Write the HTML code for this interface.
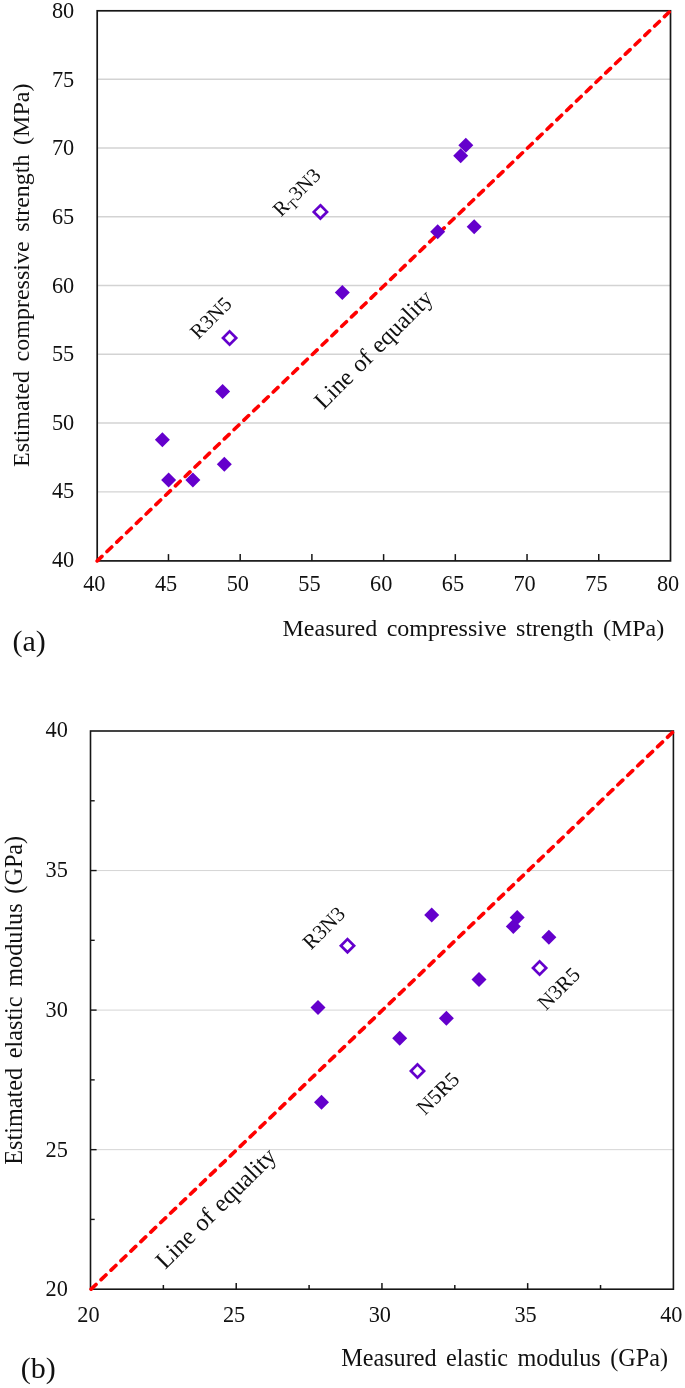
<!DOCTYPE html>
<html lang="en"><head><meta charset="utf-8"><title>Estimated vs measured</title>
<style>
html,body{margin:0;padding:0;background:#fff}
svg{display:block;will-change:transform;font-family:"Liberation Serif",serif}
</style></head><body>
<svg width="685" height="1388" viewBox="0 0 685 1388">
<rect width="685" height="1388" fill="#fff"/>
<g id="chartA">
<line x1="97.2" x2="670.5" y1="491.84" y2="491.84" stroke="#d3d3d3" stroke-width="1.4"/>
<line x1="97.2" x2="670.5" y1="423.07" y2="423.07" stroke="#d3d3d3" stroke-width="1.4"/>
<line x1="97.2" x2="670.5" y1="354.31" y2="354.31" stroke="#d3d3d3" stroke-width="1.4"/>
<line x1="97.2" x2="670.5" y1="285.55" y2="285.55" stroke="#d3d3d3" stroke-width="1.4"/>
<line x1="97.2" x2="670.5" y1="216.79" y2="216.79" stroke="#d3d3d3" stroke-width="1.4"/>
<line x1="97.2" x2="670.5" y1="148.02" y2="148.02" stroke="#d3d3d3" stroke-width="1.4"/>
<line x1="97.2" x2="670.5" y1="79.26" y2="79.26" stroke="#d3d3d3" stroke-width="1.4"/>
<rect x="97.2" y="10.8" width="573.3" height="550.1" fill="none" stroke="#161616" stroke-width="1.7"/>
<line x1="168.47" x2="168.47" y1="560.9" y2="554.1" stroke="#161616" stroke-width="1.5"/>
<line x1="240.18" x2="240.18" y1="560.9" y2="554.1" stroke="#161616" stroke-width="1.5"/>
<line x1="311.89" x2="311.89" y1="560.9" y2="554.1" stroke="#161616" stroke-width="1.5"/>
<line x1="383.61" x2="383.61" y1="560.9" y2="554.1" stroke="#161616" stroke-width="1.5"/>
<line x1="455.32" x2="455.32" y1="560.9" y2="554.1" stroke="#161616" stroke-width="1.5"/>
<line x1="527.04" x2="527.04" y1="560.9" y2="554.1" stroke="#161616" stroke-width="1.5"/>
<line x1="598.75" x2="598.75" y1="560.9" y2="554.1" stroke="#161616" stroke-width="1.5"/>
<line x1="97.2" y1="560.9" x2="670.5" y2="10.8" stroke="#ff0000" stroke-width="3.6" stroke-linecap="round" stroke-dasharray="6.6 6.954"/>
<g font-size="22.3" fill="#111">
<text x="74.2" y="567.0" text-anchor="end">40</text>
<text x="94.3" y="591.4" text-anchor="middle">40</text>
<text x="74.2" y="498.4" text-anchor="end">45</text>
<text x="166.1" y="591.4" text-anchor="middle">45</text>
<text x="74.2" y="429.8" text-anchor="end">50</text>
<text x="237.8" y="591.4" text-anchor="middle">50</text>
<text x="74.2" y="361.1" text-anchor="end">55</text>
<text x="309.5" y="591.4" text-anchor="middle">55</text>
<text x="74.2" y="292.5" text-anchor="end">60</text>
<text x="381.2" y="591.4" text-anchor="middle">60</text>
<text x="74.2" y="223.9" text-anchor="end">65</text>
<text x="452.9" y="591.4" text-anchor="middle">65</text>
<text x="74.2" y="155.2" text-anchor="end">70</text>
<text x="524.6" y="591.4" text-anchor="middle">70</text>
<text x="74.2" y="86.6" text-anchor="end">75</text>
<text x="596.4" y="591.4" text-anchor="middle">75</text>
<text x="74.2" y="18.0" text-anchor="end">80</text>
<text x="668.1" y="591.4" text-anchor="middle">80</text>
</g>
<polygon points="162.4,432.3 169.9,439.8 162.4,447.3 154.9,439.8" fill="#6400cc"/>
<polygon points="168.6,472.4 176.1,479.9 168.6,487.4 161.1,479.9" fill="#6400cc"/>
<polygon points="192.9,472.4 200.4,479.9 192.9,487.4 185.4,479.9" fill="#6400cc"/>
<polygon points="224.3,456.8 231.8,464.3 224.3,471.8 216.8,464.3" fill="#6400cc"/>
<polygon points="222.6,383.9 230.1,391.4 222.6,398.9 215.1,391.4" fill="#6400cc"/>
<polygon points="342.3,285.1 349.8,292.6 342.3,300.1 334.8,292.6" fill="#6400cc"/>
<polygon points="437.7,224.3 445.2,231.8 437.7,239.3 430.2,231.8" fill="#6400cc"/>
<polygon points="474.2,219.2 481.7,226.7 474.2,234.2 466.7,226.7" fill="#6400cc"/>
<polygon points="460.7,148.3 468.2,155.8 460.7,163.3 453.2,155.8" fill="#6400cc"/>
<polygon points="465.8,137.8 473.3,145.3 465.8,152.8 458.3,145.3" fill="#6400cc"/>
<polygon points="229.6,331.4 236.2,338.0 229.6,344.6 223.0,338.0" fill="#fff" stroke="#6400cc" stroke-width="2.7" stroke-linejoin="miter"/>
<polygon points="320.4,205.3 327.0,211.9 320.4,218.5 313.8,211.9" fill="#fff" stroke="#6400cc" stroke-width="2.7" stroke-linejoin="miter"/>
<text font-size="24" x="282.5" y="635.9" fill="#111" word-spacing="3.5">Measured compressive strength (MPa)</text>
<text font-size="24" transform="translate(28.5,467.0) rotate(-90)" fill="#111" word-spacing="3.6">Estimated compressive strength (MPa)</text>
<text font-size="30" x="12.5" y="650.6" fill="#111">(a)</text>
<text font-size="20.5" transform="translate(198.3,340) rotate(-45)" fill="#111">R3N5</text>
<text font-size="20.5" transform="translate(281.0,217.5) rotate(-45)" fill="#111">R<tspan font-size="14.5" dy="4.5">T</tspan><tspan dy="-4.5">3N3</tspan></text>
<text font-size="24" transform="translate(323.7,410.2) rotate(-45)" fill="#111" word-spacing="1.6">Line of equality</text>
</g>
<g id="chartB">
<line x1="90.5" x2="673.4" y1="1149.65" y2="1149.65" stroke="#c8c8c8" stroke-width="0.75"/>
<line x1="90.5" x2="673.4" y1="1010.10" y2="1010.10" stroke="#c8c8c8" stroke-width="0.75"/>
<line x1="90.5" x2="673.4" y1="870.55" y2="870.55" stroke="#c8c8c8" stroke-width="0.75"/>
<rect x="90.5" y="731.0" width="582.9" height="558.2" fill="none" stroke="#161616" stroke-width="1.6"/>
<line x1="163.36" x2="163.36" y1="1289.2" y2="1285.0" stroke="#161616" stroke-width="1.5"/>
<line y1="1219.42" y2="1219.42" x1="90.5" x2="94.7" stroke="#161616" stroke-width="1.4"/>
<line x1="236.22" x2="236.22" y1="1289.2" y2="1283.1000000000001" stroke="#161616" stroke-width="1.5"/>
<line y1="1149.65" y2="1149.65" x1="90.5" x2="96.6" stroke="#161616" stroke-width="1.4"/>
<line x1="309.09" x2="309.09" y1="1289.2" y2="1285.0" stroke="#161616" stroke-width="1.5"/>
<line y1="1079.88" y2="1079.88" x1="90.5" x2="94.7" stroke="#161616" stroke-width="1.4"/>
<line x1="381.95" x2="381.95" y1="1289.2" y2="1283.1000000000001" stroke="#161616" stroke-width="1.5"/>
<line y1="1010.10" y2="1010.10" x1="90.5" x2="96.6" stroke="#161616" stroke-width="1.4"/>
<line x1="454.81" x2="454.81" y1="1289.2" y2="1285.0" stroke="#161616" stroke-width="1.5"/>
<line y1="940.33" y2="940.33" x1="90.5" x2="94.7" stroke="#161616" stroke-width="1.4"/>
<line x1="527.67" x2="527.67" y1="1289.2" y2="1283.1000000000001" stroke="#161616" stroke-width="1.5"/>
<line y1="870.55" y2="870.55" x1="90.5" x2="96.6" stroke="#161616" stroke-width="1.4"/>
<line x1="600.54" x2="600.54" y1="1289.2" y2="1285.0" stroke="#161616" stroke-width="1.5"/>
<line y1="800.78" y2="800.78" x1="90.5" x2="94.7" stroke="#161616" stroke-width="1.4"/>
<line x1="90.8" y1="1289.5" x2="673.6999999999999" y2="731.3" stroke="#ff0000" stroke-width="3.7" stroke-dashoffset="-0.5" stroke-linecap="round" stroke-dasharray="6.7 7.06"/>
<g font-size="22.3" fill="#111">
<text x="67.8" y="1296.3" text-anchor="end">20</text>
<text x="88.4" y="1321.8" text-anchor="middle">20</text>
<text x="67.8" y="1156.5" text-anchor="end">25</text>
<text x="234.1" y="1321.8" text-anchor="middle">25</text>
<text x="67.8" y="1016.7" text-anchor="end">30</text>
<text x="379.8" y="1321.8" text-anchor="middle">30</text>
<text x="67.8" y="876.9" text-anchor="end">35</text>
<text x="525.6" y="1321.8" text-anchor="middle">35</text>
<text x="67.8" y="737.1" text-anchor="end">40</text>
<text x="671.3" y="1321.8" text-anchor="middle">40</text>
</g>
<polygon points="318.0,999.9 325.5,1007.4 318.0,1014.9 310.5,1007.4" fill="#6400cc"/>
<polygon points="321.5,1094.7 329.0,1102.2 321.5,1109.7 314.0,1102.2" fill="#6400cc"/>
<polygon points="399.7,1030.7 407.2,1038.2 399.7,1045.7 392.2,1038.2" fill="#6400cc"/>
<polygon points="446.4,1010.8 453.9,1018.3 446.4,1025.8 438.9,1018.3" fill="#6400cc"/>
<polygon points="431.7,907.6 439.2,915.1 431.7,922.6 424.2,915.1" fill="#6400cc"/>
<polygon points="479.0,972.0 486.5,979.5 479.0,987.0 471.5,979.5" fill="#6400cc"/>
<polygon points="513.3,918.9 520.8,926.4 513.3,933.9 505.8,926.4" fill="#6400cc"/>
<polygon points="517.2,910.0 524.7,917.5 517.2,925.0 509.7,917.5" fill="#6400cc"/>
<polygon points="548.9,929.8 556.4,937.3 548.9,944.8 541.4,937.3" fill="#6400cc"/>
<polygon points="347.5,939.1 354.1,945.7 347.5,952.3 340.9,945.7" fill="#fff" stroke="#6400cc" stroke-width="2.7" stroke-linejoin="miter"/>
<polygon points="417.5,1064.4 424.1,1071.0 417.5,1077.6 410.9,1071.0" fill="#fff" stroke="#6400cc" stroke-width="2.7" stroke-linejoin="miter"/>
<polygon points="539.6,961.4 546.2,968.0 539.6,974.6 533.0,968.0" fill="#fff" stroke="#6400cc" stroke-width="2.7" stroke-linejoin="miter"/>
<text font-size="24.2" x="341.2" y="1365.7" fill="#111" word-spacing="3.5">Measured elastic modulus (GPa)</text>
<text font-size="24.2" transform="translate(21.9,1164.7) rotate(-90)" fill="#111" word-spacing="3.7">Estimated elastic modulus (GPa)</text>
<text font-size="30" x="20.7" y="1378.1" fill="#111">(b)</text>
<text font-size="21" transform="translate(311.0,950.5) rotate(-45)" fill="#111">R3N3</text>
<text font-size="21" transform="translate(425.1,1116.0) rotate(-45)" fill="#111">N5R5</text>
<text font-size="21" transform="translate(545.9,1011.3) rotate(-45)" fill="#111">N3R5</text>
<text font-size="24.4" transform="translate(165.2,1270.0) rotate(-45)" fill="#111" word-spacing="1.6">Line of equality</text>
</g>
</svg>
</body></html>
